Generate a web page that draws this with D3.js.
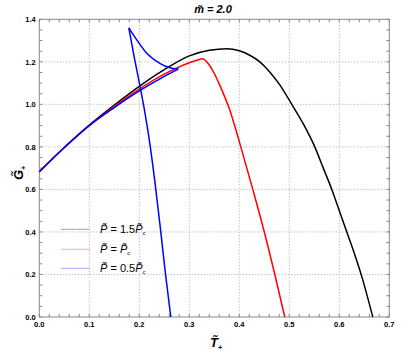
<!DOCTYPE html>
<html>
<head>
<meta charset="utf-8">
<script src="https://cdn.jsdelivr.net/npm/d3@7"></script>
<style>
  body { margin: 0; background: #fff; }
  svg text { font-family: "Liberation Sans", Arial, sans-serif; }
</style>
</head>
<body>
<svg id="chart" width="415" height="354"></svg>
<script>
// data: [T, G] pairs, each branch ordered by T
var blackCurve = [[0, 0.683], [0.05, 0.797], [0.1, 0.903], [0.15, 0.997], [0.2, 1.085], [0.25, 1.163],
  [0.3, 1.228], [0.34, 1.254], [0.375, 1.262], [0.4, 1.252], [0.42, 1.232], [0.441, 1.2],
  [0.46, 1.155], [0.48, 1.095], [0.505, 1.0], [0.53, 0.9], [0.551, 0.8], [0.568, 0.7],
  [0.585, 0.6], [0.6, 0.5], [0.615, 0.4], [0.63, 0.3], [0.645, 0.19], [0.667, 0]];

var redRise = [[0, 0.683], [0.05, 0.797], [0.1, 0.901], [0.15, 0.99], [0.2, 1.072], [0.25, 1.142],
  [0.3, 1.196], [0.318, 1.21], [0.327, 1.215]];
var redFall = [[0.327, 1.215], [0.333, 1.205], [0.34, 1.185], [0.35, 1.145], [0.36, 1.095],
  [0.37, 1.04], [0.38, 0.98], [0.39, 0.905], [0.403, 0.8], [0.427, 0.6], [0.45, 0.4],
  [0.471, 0.2], [0.491, 0]];

var blueLower = [[0, 0.683], [0.05, 0.797], [0.1, 0.9], [0.15, 0.985], [0.2, 1.063], [0.25, 1.132],
  [0.278, 1.166]];
var blueUpper = [[0.179, 1.36], [0.195, 1.303], [0.215, 1.24], [0.241, 1.193], [0.261, 1.172],
  [0.278, 1.166]];
var blueSteep = [[0.179, 1.36], [0.19, 1.22], [0.201, 1.09], [0.212, 0.95], [0.222, 0.8],
  [0.232, 0.62], [0.242, 0.42], [0.252, 0.21], [0.263, 0]];

var xTicks = [0, 0.1, 0.2, 0.3, 0.4, 0.5, 0.6, 0.7];
var yTicks = [0, 0.2, 0.4, 0.6, 0.8, 1.0, 1.2, 1.4];

var svg = d3.select("svg#chart");
var pLeft = 39.3, pRight = 389.3, pTop = 19.3, pBottom = 317;

var x = d3.scaleLinear().domain([0, 0.7]).range([pLeft, pRight]);
var y = d3.scaleLinear().domain([0, 1.4]).range([pBottom, pTop]);

// dotted grid
var grid = svg.append("g").attr("stroke", "#a8a8a8").attr("stroke-dasharray", "1,2");
grid.selectAll("line.gx").data(xTicks.slice(1, -1)).enter().append("line")
  .attr("x1", d => x(d)).attr("x2", d => x(d)).attr("y1", pTop).attr("y2", pBottom);
grid.selectAll("line.gy").data(yTicks.slice(1, -1)).enter().append("line")
  .attr("x1", pLeft).attr("x2", pRight).attr("y1", d => y(d)).attr("y2", d => y(d));

// ticks on all four sides, pointing in
var xMinor = d3.range(0, 71, 2).map(d => d / 100);
var yMinor = d3.range(0, 141, 5).map(d => d / 100);
var tk = svg.append("g").attr("stroke", "#888").attr("stroke-width", 1);
tk.selectAll("line.xb").data(xMinor).enter().append("line")
  .attr("x1", d => x(d)).attr("x2", d => x(d)).attr("y1", pBottom).attr("y2", pBottom - 3);
tk.selectAll("line.xt").data(xMinor).enter().append("line")
  .attr("x1", d => x(d)).attr("x2", d => x(d)).attr("y1", pTop).attr("y2", pTop + 3);
tk.selectAll("line.yl").data(yMinor).enter().append("line")
  .attr("y1", d => y(d)).attr("y2", d => y(d)).attr("x1", pLeft).attr("x2", pLeft + 3);
tk.selectAll("line.yr").data(yMinor).enter().append("line")
  .attr("y1", d => y(d)).attr("y2", d => y(d)).attr("x1", pRight).attr("x2", pRight - 3);

svg.append("rect").attr("x", pLeft).attr("y", pTop)
  .attr("width", pRight - pLeft).attr("height", pBottom - pTop)
  .attr("fill", "none").attr("stroke", "#888");

// tick labels
svg.selectAll("text.xl").data(xTicks).enter().append("text")
  .attr("x", d => x(d)).attr("y", pBottom + 9.5)
  .attr("text-anchor", "middle").attr("font-size", 7.5).attr("font-weight", "bold")
  .text(d => d3.format(".1f")(d));
svg.selectAll("text.yl").data(yTicks).enter().append("text")
  .attr("x", pLeft - 3.5).attr("y", d => y(d) + 2.7)
  .attr("text-anchor", "end").attr("font-size", 7.5).attr("font-weight", "bold")
  .text(d => d3.format(".1f")(d));

// curves
var line = d3.line().x(d => x(d[0])).y(d => y(d[1])).curve(d3.curveMonotoneX);
var series = [
  {data: blackCurve, color: "#000"},
  {data: redRise, color: "#f00"},
  {data: redFall, color: "#f00"},
  {data: blueLower, color: "#00f"},
  {data: blueUpper, color: "#00f"},
  {data: blueSteep, color: "#00f"}
];
svg.append("g").selectAll("path").data(series).enter().append("path")
  .attr("d", d => line(d.data))
  .attr("fill", "none")
  .attr("stroke", d => d.color)
  .attr("stroke-width", 1.5)
  .attr("stroke-linejoin", "round");

// title
svg.append("text").attr("x", 213).attr("y", 13)
  .attr("text-anchor", "middle").attr("font-size", 11)
  .attr("font-weight", "bold").attr("font-style", "italic")
  .text("m\u0303 = 2.0");

// axis labels
var xl = svg.append("text").attr("x", 210).attr("y", 347)
  .attr("font-size", 13).attr("font-weight", "bold").attr("font-style", "italic");
xl.append("tspan").text("T\u0303");
xl.append("tspan").attr("font-size", 7).attr("dy", 3).text("+");

var yl = svg.append("text").attr("transform", "translate(23,180) rotate(-90)")
  .attr("font-size", 13).attr("font-weight", "bold").attr("font-style", "italic");
yl.append("tspan").text("G\u0303");
yl.append("tspan").attr("font-size", 7).attr("dy", 3).text("+");

// legend
var legendLabels = [["1.5", "#a6a6a6"], ["", "#f7b0b0"], ["0.5", "#a8a8ff"]];
var legendY = [229.3, 249.3, 268.3];
var lg = svg.append("g").selectAll("g").data(legendLabels).enter().append("g")
  .attr("transform", (d, i) => "translate(0," + legendY[i] + ")");
lg.append("line").attr("x1", 61).attr("x2", 90).attr("y1", 0).attr("y2", 0)
  .attr("stroke", d => d[1]).attr("stroke-width", 1);
var lt = lg.append("text").attr("x", 100).attr("y", 4).attr("font-size", 11);
lt.append("tspan").attr("font-style", "italic").text("P\u0303");
lt.append("tspan").text(d => " = " + d[0]);
lt.append("tspan").attr("font-style", "italic").text("P\u0303");
lt.append("tspan").attr("font-size", 6).attr("dy", 2).attr("font-style", "italic").text("c");
</script>
</body>
</html>
